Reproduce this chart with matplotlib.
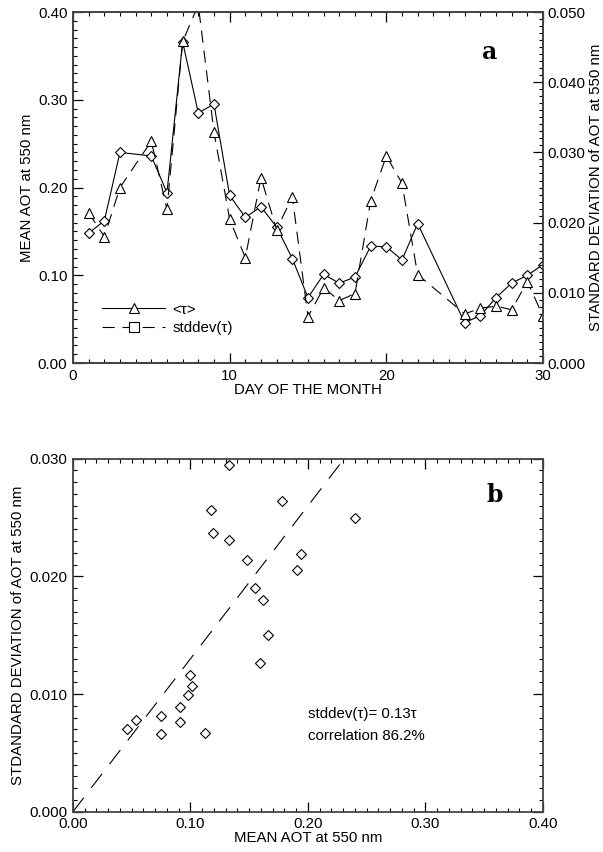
import matplotlib
matplotlib.use("Agg")
import matplotlib.pyplot as plt
from matplotlib.lines import Line2D
from matplotlib.ticker import MultipleLocator, FormatStrFormatter
import numpy as np

# Daily aerosol optical thickness statistics
days = [1, 2, 3, 5, 6, 7, 8, 9, 10, 11, 12, 13, 14, 15, 16, 17, 18, 19, 20,
        21, 22, 25, 26, 27, 28, 29, 30]
mean_aot = [0.148, 0.162, 0.240, 0.236, 0.194, 0.366, 0.285, 0.295, 0.191,
            0.166, 0.178, 0.155, 0.119, 0.0745, 0.101, 0.091, 0.098, 0.133,
            0.1326, 0.1174, 0.159, 0.046, 0.054, 0.0745, 0.091, 0.100, 0.112]
std_aot = [0.0214, 0.0180, 0.0250, 0.0316, 0.0219, 0.0458, 0.0510, 0.0329,
           0.0205, 0.0150, 0.0264, 0.0190, 0.0237, 0.0066, 0.0107, 0.0089,
           0.0099, 0.0231, 0.0295, 0.0256, 0.0126, 0.0070, 0.0078, 0.0081,
           0.0076, 0.0116, 0.0067]
fit_slope = 0.13
fit_text = ["stddev(\u03c4)= 0.13\u03c4", "correlation 86.2%"]

plt.rcParams['font.family'] = ['Liberation Sans', 'DejaVu Sans']
FS = 10.8
plt.rcParams['font.size'] = FS
SPINE = '#444444'

fig = plt.figure(figsize=(6.03, 8.52), dpi=100)


def style_axis(ax, right_ticks=True, top_ticks=True):
    for s in ax.spines.values():
        s.set_linewidth(1.3)
        s.set_color(SPINE)
    ax.tick_params(which='both', direction='in', top=top_ticks,
                   right=right_ticks, colors='black', labelsize=FS)
    ax.tick_params(which='major', length=7, width=0.9, pad=4)
    ax.tick_params(which='minor', length=3.2, width=0.8)


# ---------------- panel a ----------------
ax1 = fig.add_axes([0.121, 0.5739, 0.7795, 0.412])
ax1.plot(days, mean_aot, color='black', lw=0.8, marker='D', ms=5,
         mfc='white', mec='black', mew=0.8, zorder=3)
ax1.set_xlim(0, 30)
ax1.set_ylim(0, 0.40)
ax1.xaxis.set_major_locator(MultipleLocator(10))
ax1.xaxis.set_minor_locator(MultipleLocator(1))
ax1.yaxis.set_major_locator(MultipleLocator(0.10))
ax1.yaxis.set_minor_locator(MultipleLocator(0.01))
ax1.yaxis.set_major_formatter(FormatStrFormatter('%.2f'))
style_axis(ax1, right_ticks=False)
ax1.set_xlabel('DAY OF THE MONTH', fontsize=FS, labelpad=0)
ax1.set_ylabel('MEAN AOT at 550 nm', fontsize=FS, labelpad=3)

ax1b = ax1.twinx()
ax1b.plot(days, std_aot, color='black', lw=0.8, ls=(0, (11, 7)),
          marker='^', ms=6.5, mfc='white', mec='black', mew=0.8, zorder=2)
ax1b.set_ylim(0, 0.050)
ax1b.yaxis.set_major_locator(MultipleLocator(0.010))
ax1b.yaxis.set_minor_locator(MultipleLocator(0.001))
ax1b.yaxis.set_major_formatter(FormatStrFormatter('%.3f'))
for s in ax1b.spines.values():
    s.set_linewidth(1.3)
    s.set_color(SPINE)
ax1b.tick_params(which='both', direction='in', labelsize=FS)
ax1b.tick_params(which='major', length=7, width=0.9, pad=3)
ax1b.tick_params(which='minor', length=3.2, width=0.8)
ax1b.set_ylabel('STANDARD DEVIATION of AOT at 550 nm', fontsize=FS,
                labelpad=3)

handles = [
    Line2D([], [], color='black', lw=0.8, marker='^', ms=6.5,
           mfc='white', mec='black', mew=0.8),
    Line2D([], [], color='black', lw=0.8, ls=(0, (11, 7)), marker='s',
           ms=6.5, mfc='white', mec='black', mew=0.8),
]
ax1.legend(handles, ['<\u03c4>', 'stddev(\u03c4)'], loc='upper left',
           bbox_to_anchor=(0.062, 0.172), frameon=False, handlelength=4.2,
           handletextpad=0.5, labelspacing=0.3, borderpad=0,
           borderaxespad=0, numpoints=1, fontsize=FS)

ax1.text(0.887, 0.886, 'a', transform=ax1.transAxes, ha='center',
         va='center', fontsize=17, fontweight='bold',
         family=['DejaVu Serif'])

# ---------------- panel b ----------------
ax2 = fig.add_axes([0.121, 0.0473, 0.7795, 0.4143])
ax2.plot(mean_aot, std_aot, ls='none', marker='D', ms=5, mfc='white',
         mec='black', mew=0.8, zorder=3)
fx = np.array([0.0, 0.40])
ax2.plot(fx, fit_slope * fx, color='black', lw=0.8, ls=(0, (16, 11)))
ax2.set_xlim(0, 0.40)
ax2.set_ylim(0, 0.030)
ax2.xaxis.set_major_locator(MultipleLocator(0.10))
ax2.xaxis.set_minor_locator(MultipleLocator(0.01))
ax2.yaxis.set_major_locator(MultipleLocator(0.010))
ax2.yaxis.set_minor_locator(MultipleLocator(0.001))
ax2.xaxis.set_major_formatter(FormatStrFormatter('%.2f'))
ax2.yaxis.set_major_formatter(FormatStrFormatter('%.3f'))
style_axis(ax2)
ax2.set_xlabel('MEAN AOT at 550 nm', fontsize=FS, labelpad=0)
ax2.set_ylabel('STDANDARD DEVIATION of AOT at 550 nm', fontsize=FS,
               labelpad=3)
ax2.text(0.200, 0.0083, fit_text[0], fontsize=FS, va='center')
ax2.text(0.200, 0.0064, fit_text[1], fontsize=FS, va='center')
ax2.text(0.898, 0.897, 'b', transform=ax2.transAxes, ha='center',
         va='center', fontsize=17, fontweight='bold',
         family=['DejaVu Serif'])

fig.savefig('out.png', dpi=100)
